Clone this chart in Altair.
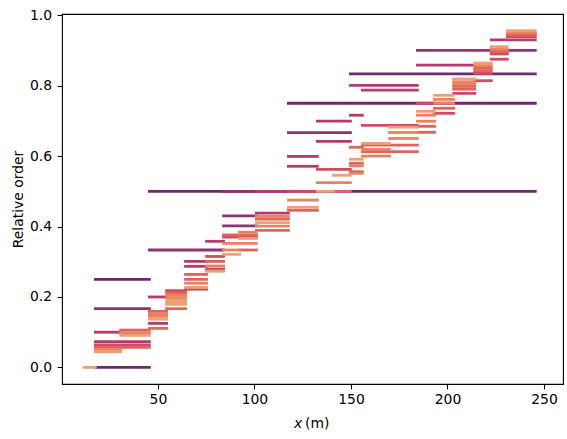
import altair as alt
import pandas as pd

# Segments: start x (m), end x (m), relative order, level (0 = coarsest)
x_start = [
    17.6, 17.6, 45.6, 117.6, 149.7,
    17.6, 45.6, 84.0, 84.0, 84.0, 117.6, 184.4,
    17.6, 17.6, 45.6, 45.6, 64.3, 64.3, 75.2, 101.0, 101.0, 117.6, 117.6, 132.6, 132.6, 149.7, 149.7, 155.9, 184.4, 222.7,
    17.6, 54.5, 64.3, 75.2, 75.2, 84.0, 117.6, 132.6, 155.9, 184.4, 193.3, 203.2, 214.1, 214.1, 222.7, 222.7, 231.0,
    17.6, 30.7, 45.6, 45.6, 54.5, 54.5, 64.3, 64.3, 75.2, 84.0, 92.3, 101.0, 101.0, 117.6, 140.9, 149.7, 149.7, 149.7,
    155.9, 155.9, 184.4, 184.4, 193.3, 203.2, 203.2, 214.1, 214.1, 222.7, 231.0,
    17.6, 30.7, 45.6, 45.6, 54.5, 54.5, 64.3, 75.2, 84.0, 84.0, 92.3, 101.0, 101.0, 117.6, 132.6, 149.7, 149.7, 155.9,
    155.9, 170.0, 170.0, 184.4, 184.4, 193.3, 193.3, 203.2, 203.2, 214.1, 222.7, 231.0,
    11.9, 17.6, 30.7, 45.6, 54.5, 54.5, 54.5, 64.3, 75.2, 84.0, 92.3, 101.0, 117.6, 132.6, 140.9, 149.7, 155.9, 170.0,
    184.4, 193.3, 203.2, 214.1, 222.7, 231.0,
]
x_end = [
    45.6, 45.6, 245.5, 245.5, 245.5,
    45.6, 84.0, 101.0, 101.0, 101.0, 149.7, 245.5,
    45.6, 30.7, 54.5, 54.5, 75.2, 75.2, 84.0, 117.6, 117.6, 132.6, 132.6, 149.7, 149.7, 155.9, 184.4, 184.4, 214.1, 245.5,
    45.6, 64.3, 75.2, 84.0, 84.0, 101.0, 132.6, 149.7, 184.4, 193.3, 203.2, 214.1, 222.7, 222.7, 231.0, 231.0, 245.5,
    45.6, 45.6, 54.5, 54.5, 64.3, 64.3, 75.2, 75.2, 84.0, 101.0, 101.0, 117.6, 117.6, 132.6, 149.7, 155.9, 155.9, 155.9,
    184.4, 184.4, 193.3, 193.3, 203.2, 214.1, 214.1, 222.7, 222.7, 231.0, 245.5,
    30.7, 45.6, 54.5, 54.5, 64.3, 64.3, 75.2, 84.0, 92.3, 101.0, 101.0, 117.6, 117.6, 132.6, 149.7, 155.9, 155.9, 170.0,
    170.0, 184.4, 184.4, 193.3, 193.3, 203.2, 203.2, 214.1, 214.1, 222.7, 231.0, 245.5,
    17.6, 30.7, 45.6, 54.5, 64.3, 64.3, 64.3, 75.2, 84.0, 92.3, 101.0, 117.6, 132.6, 140.9, 149.7, 155.9, 170.0, 184.4,
    193.3, 203.2, 214.1, 222.7, 231.0, 245.5,
]
rel_order = [
    0.0, 0.25, 0.5, 0.75, 0.8333,
    0.1667, 0.3333, 0.5, 0.43, 0.402, 0.6667, 0.9,
    0.073, 0.1, 0.125, 0.2, 0.301, 0.287, 0.358, 0.5, 0.438, 0.599, 0.571, 0.699, 0.642, 0.716, 0.801, 0.787, 0.858, 0.93,
    0.0636, 0.218, 0.222, 0.315, 0.279, 0.37, 0.5, 0.5625, 0.687, 0.75, 0.7215, 0.778, 0.835, 0.814, 0.875, 0.89, 0.939,
    0.057, 0.106, 0.111, 0.159, 0.212, 0.1667, 0.264, 0.25, 0.301, 0.376, 0.3333, 0.421, 0.389, 0.446, 0.5, 0.5795, 0.5557, 0.625,
    0.631, 0.6125, 0.6845, 0.6675, 0.7357, 0.798, 0.79, 0.849, 0.8416, 0.896, 0.944,
    0.051, 0.0986, 0.152, 0.145, 0.205, 0.198, 0.239, 0.288, 0.3333, 0.352, 0.384, 0.429, 0.401, 0.475, 0.5245, 0.572, 0.551, 0.6,
    0.619, 0.667, 0.65, 0.716, 0.699, 0.761, 0.75, 0.811, 0.804, 0.857, 0.903, 0.95,
    0.0, 0.0446, 0.091, 0.137, 0.191, 0.185, 0.179, 0.227, 0.273, 0.321, 0.366, 0.411, 0.4545, 0.5, 0.5455, 0.591, 0.636, 0.682,
    0.727, 0.7725, 0.819, 0.864, 0.9106, 0.956,
]
level = (
    [0] * 5 + [1] * 7 + [2] * 18 + [3] * 17 + [4] * 29 + [5] * 30 + [6] * 24
)

palette = ["#6c2b6d", "#8f3371", "#b03d6c", "#cf4a62", "#e1625d", "#e8825f", "#eca073"]
x_ticks = [50, 100, 150, 200, 250]
y_ticks = [0.0, 0.2, 0.4, 0.6, 0.8, 1.0]

df = pd.DataFrame({"x0": x_start, "x1": x_end, "y": rel_order, "level": level})

FONT = "DejaVu Sans"

rules = alt.Chart(df).mark_rule(strokeWidth=2.8, strokeCap="square").encode(
    x=alt.X("x0:Q", scale=alt.Scale(domain=[0.32, 259.84], nice=False, zero=False),
            axis=alt.Axis(values=x_ticks, title=None, format="d")),
    x2="x1:Q",
    y=alt.Y("y:Q", scale=alt.Scale(domain=[-0.0471, 1.0034], nice=False, zero=False),
            axis=alt.Axis(values=y_ticks, format=".1f", title="Relative order", labelPadding=5.5,
                          titleX=-40, titleY=185, titleAngle=-90, titleBaseline="alphabetic",
                          titleAlign="center")),
    color=alt.Color("level:O", scale=alt.Scale(domain=list(range(7)), range=palette), legend=None),
)

title_x = alt.Chart(pd.DataFrame({"t": ["x"]})).mark_text(
    font=FONT, fontSize=13.9, fontStyle="italic", align="left", baseline="alphabetic", color="black"
).encode(text="t:N", x=alt.value(232), y=alt.value(414))

title_m = alt.Chart(pd.DataFrame({"t": ["(m)"]})).mark_text(
    font=FONT, fontSize=13.9, align="left", baseline="alphabetic", color="black"
).encode(text="t:N", x=alt.value(243), y=alt.value(414))

chart = alt.layer(rules, title_x, title_m).properties(
    width=501, height=370,
    autosize=alt.AutoSizeParams(type="none"),
    padding={"left": 62, "top": 14, "right": 4, "bottom": 55},
).configure_view(
    stroke="black", strokeWidth=1.1
).configure_axis(
    grid=False, domain=False,
    tickColor="black", tickWidth=1.1, tickSize=4.9,
    labelFont=FONT, labelFontSize=13.9, labelColor="black", labelPadding=4,
    titleFont=FONT, titleFontSize=13.9, titleColor="black", titleFontWeight="normal",
)

chart.save("out.html", embed_options={"renderer": "svg", "actions": False})
